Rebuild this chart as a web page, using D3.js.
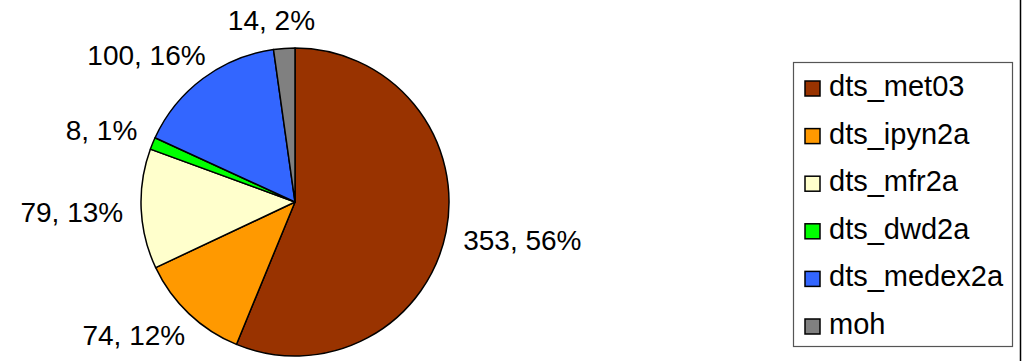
<!DOCTYPE html>
<html>
<head>
<meta charset="utf-8">
<script src="https://cdn.jsdelivr.net/npm/d3@7"></script>
<style>
  body { margin: 0; background: #fff; }
  svg text { font-family: "Liberation Sans", Arial, sans-serif; fill: #000; }
</style>
</head>
<body>
<svg id="chart" width="1025" height="361"></svg>
<script>
var series_names = ['dts_met03', 'dts_ipyn2a', 'dts_mfr2a', 'dts_dwd2a', 'dts_medex2a', 'moh'];
var series_values = [353, 74, 79, 8, 100, 14];
var series_colors = ['#993300', '#ff9900', '#ffffcc', '#00ff00', '#3366ff', '#808080'];

var page_w = 1025,
    page_h = 361,
    pie_cx = 295,
    pie_cy = 202,
    radius = 154,
    label_gap = 18,
    label_font = 28,
    legend_font = 29,
    legend_x = 793,
    legend_y = 62,
    legend_w = 219,
    legend_h = 284,
    legend_row = 47.6;

var svg = d3.select('#chart');

var total = d3.sum(series_values);
var rows = series_names.map(function(d, i) {
  return {name: d, value: series_values[i], color: series_colors[i]};
});

var pie = d3.pie()
  .sort(null)
  .value(function(d) { return d.value; });

var arc = d3.arc()
  .innerRadius(0)
  .outerRadius(radius);

var arcs = pie(rows);

// outer frame line on the right
svg.append('line')
  .attr('x1', 1020.5).attr('x2', 1020.5)
  .attr('y1', 0).attr('y2', page_h)
  .attr('stroke', '#000')
  .attr('stroke-width', 1.5);

var g = svg.append('g')
  .attr('transform', 'translate(' + pie_cx + ',' + pie_cy + ')');

g.selectAll('path.slice')
  .data(arcs)
  .enter()
  .append('path')
  .attr('class', 'slice')
  .attr('d', arc)
  .attr('fill', function(d) { return d.data.color; })
  .attr('stroke', '#000')
  .attr('stroke-width', 1.5)
  .attr('stroke-linejoin', 'round');

// data labels: "value, pct%" placed just outside each slice
var labels = g.selectAll('text.pie-label')
  .data(arcs)
  .enter()
  .append('text')
  .attr('class', 'pie-label')
  .attr('font-size', label_font)
  .attr('text-anchor', 'middle')
  .text(function(d) { return d.data.value + ', ' + Math.round(100 * d.data.value / total) + '%'; });

labels.each(function(d) {
  var mid = (d.startAngle + d.endAngle) / 2,
      s = Math.sin(mid),
      c = -Math.cos(mid),
      w = this.getComputedTextLength(),
      h = 0.716 * label_font,
      r = radius + label_gap;
  // push the box out by part of its size, more so the more it faces sideways
  var x = r * s + Math.sign(s) * Math.sqrt(Math.abs(s)) * w / 2,
      y = r * c + Math.sign(c) * Math.sqrt(Math.abs(c)) * h / 2;
  d3.select(this)
    .attr('x', x)
    .attr('y', y + h / 2);
});

// legend
var legend = svg.append('g')
  .attr('transform', 'translate(' + legend_x + ',' + legend_y + ')');

legend.append('rect')
  .attr('x', 0.5).attr('y', 0.5)
  .attr('width', legend_w)
  .attr('height', legend_h)
  .attr('fill', '#fff')
  .attr('stroke', '#555')
  .attr('stroke-width', 1.2);

var entry = legend.selectAll('g.entry')
  .data(rows)
  .enter()
  .append('g')
  .attr('class', 'entry')
  .attr('transform', function(d, i) { return 'translate(0,' + (34 + i * legend_row) + ')'; });

entry.append('rect')
  .attr('x', 12)
  .attr('y', -15)
  .attr('width', 15)
  .attr('height', 15)
  .attr('fill', function(d) { return d.color; })
  .attr('stroke', '#000')
  .attr('stroke-width', 1.5);

entry.append('text')
  .attr('x', 36)
  .attr('y', 0)
  .attr('font-size', legend_font)
  .text(function(d) { return d.name; });
</script>
</body>
</html>
